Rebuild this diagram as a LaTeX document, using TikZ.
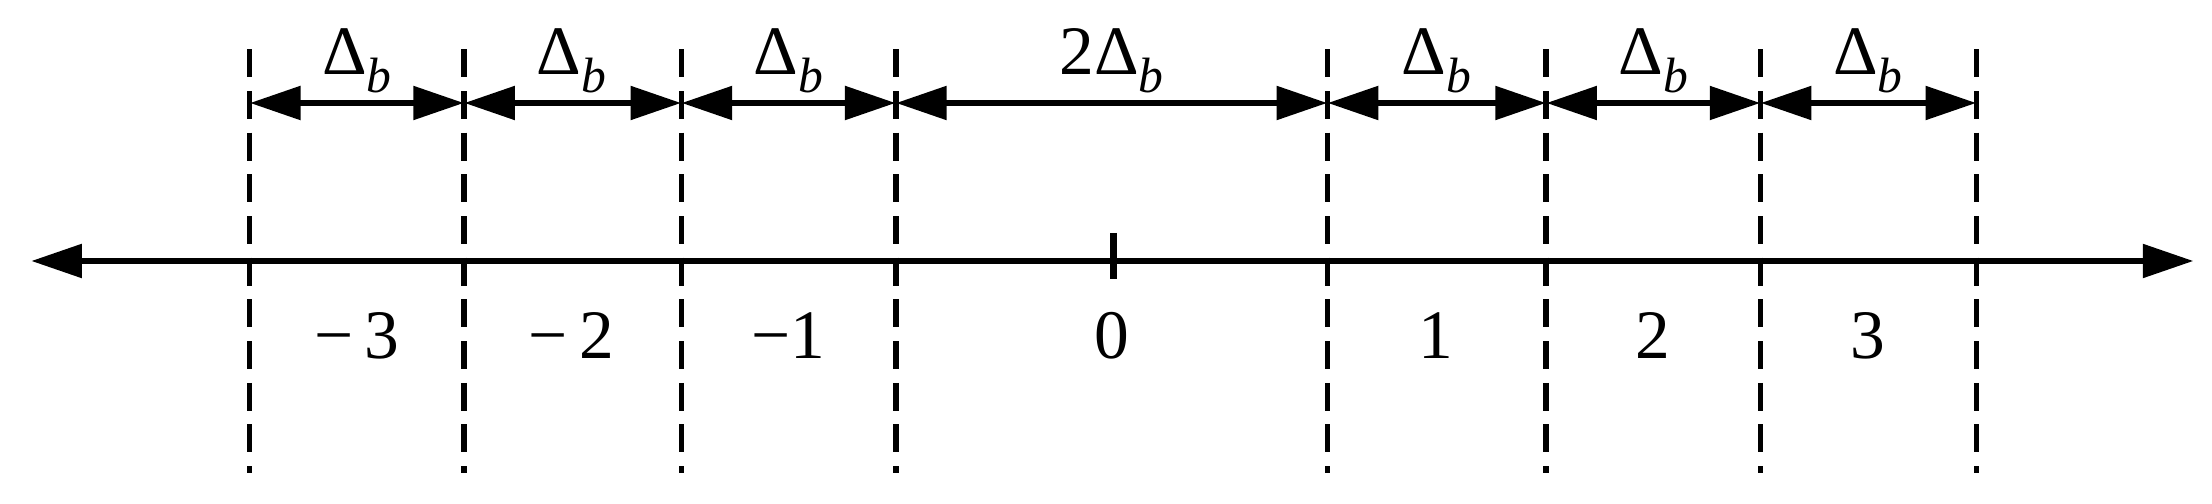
\documentclass[tikz,border=0pt]{standalone}
\usepackage{fontspec}
\setmainfont{Liberation Serif}
\usetikzlibrary{arrows.meta}
\newcommand{\Db}{Δ\raisebox{-0.25em}{\fontsize{10}{12}\selectfont\itshape b}}
\begin{document}
\begin{tikzpicture}[x=0.01cm,y=-0.01cm,
  line width=1.4pt,
  dsh/.style={line width=1.1pt,dash pattern=on 5.6pt off 2.8pt},
  lab/.style={font=\fontsize{14}{16}\selectfont, inner sep=0pt}]
\useasboundingbox (0,0) rectangle (1568,357);
\foreach \n/\x in {a/177,b/329,c/483,d/635,e/941,f/1096,g/1248,h/1401}{
  \coordinate (\n t) at (\x,35);
  \coordinate (\n b) at (\x,335);
  \coordinate (\n m) at (\x,73);
  \draw[dsh] (\n t) -- (\n b);
}
\coordinate (L) at (22,185);
\coordinate (R) at (1555,185);
\draw[{Triangle[length=0.36cm,width=0.23cm]}-{Triangle[length=0.36cm,width=0.23cm]}] (L) -- (R);
\coordinate (zt) at (789,165);
\coordinate (zb) at (789,198);
\draw (zt) -- (zb);
\foreach \p/\q in {a/b,b/c,c/d,d/e,e/f,f/g,g/h}{
  \draw[{Triangle[length=0.36cm,width=0.23cm]}-{Triangle[length=0.36cm,width=0.23cm]}] (\p m) -- (\q m);
}
\foreach \x/\t in {253/{\Db},405/{\Db},559/{\Db},788/{2\Db},1018/{\Db},1172/{\Db},1324/{\Db}}
  \node[lab] (l\x) at (\x,43) {\t};
\foreach \x/\t in {253/{−\,3},405/{−\,2},559/{−1},788/{0},1018/{1},1172/{2},1324/{3}}
  \node[lab] (n\x) at (\x,238) {\t};
\end{tikzpicture}
\end{document}
